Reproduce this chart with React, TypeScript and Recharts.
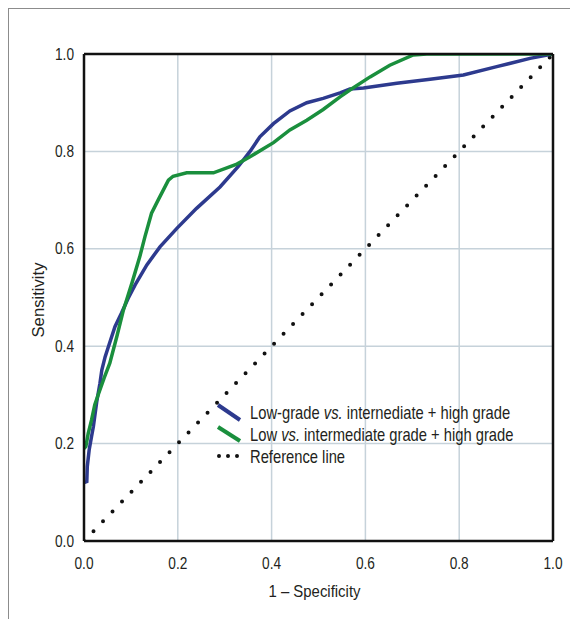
import {
  CartesianGrid,
  Label,
  Legend,
  Line,
  LineChart,
  XAxis,
  YAxis,
} from "recharts";

// Low-grade vs. intermediate + high grade (blue)
const lowGradeFpr = [
  0, 0.006, 0.007, 0.011, 0.016, 0.02, 0.027, 0.034, 0.038, 0.045, 0.052,
  0.066, 0.08, 0.094, 0.109, 0.134, 0.162, 0.198, 0.24, 0.29, 0.329, 0.354,
  0.375, 0.404, 0.439, 0.475, 0.51, 0.546, 0.567, 0.596, 0.667, 0.738, 0.809,
  0.88, 0.951, 1,
];
const lowGradeTpr = [
  0.12, 0.122, 0.153, 0.187, 0.214, 0.235, 0.285, 0.324, 0.351, 0.378, 0.399,
  0.44, 0.468, 0.498, 0.526, 0.567, 0.604, 0.642, 0.683, 0.727, 0.769, 0.8,
  0.83, 0.857, 0.883, 0.9, 0.909, 0.92, 0.928, 0.93, 0.94, 0.948, 0.957,
  0.974, 0.991, 1,
];

// Low vs. intermediate grade + high grade (green)
const lowFpr = [
  0, 0.004, 0.009, 0.016, 0.023, 0.032, 0.043, 0.055, 0.07, 0.084, 0.102,
  0.119, 0.13, 0.144, 0.158, 0.18, 0.19, 0.219, 0.276, 0.326, 0.354, 0.404,
  0.439, 0.475, 0.51, 0.546, 0.567, 0.61, 0.652, 0.702, 0.731, 1,
];
const lowTpr = [
  0.19, 0.194, 0.221, 0.248, 0.28, 0.305, 0.335, 0.365, 0.42, 0.474, 0.529,
  0.584, 0.625, 0.673, 0.7, 0.741, 0.749, 0.756, 0.756, 0.774, 0.789, 0.818,
  0.844, 0.864, 0.886, 0.912, 0.926, 0.953, 0.977, 0.998, 1, 1,
];

const refFpr = [0, 1];
const refTpr = [0, 1];

const majorTicks = [0, 0.2, 0.4, 0.6, 0.8, 1];
const minorTicks = [0, 0.1, 0.2, 0.3, 0.4, 0.5, 0.6, 0.7, 0.8, 0.9, 1];

const legendLabels = [
  ["Low-grade ", "vs.", " internediate + high grade"],
  ["Low ", "vs.", " intermediate grade + high grade"],
  ["Reference line", "", ""],
];

const BLUE = "#2d3a8e";
const GREEN = "#1a8f3d";
const INK = "#111";
const TEXT = "#231f20";
const FONT =
  '"Liberation Sans Narrow", "Liberation Sans", Arial, sans-serif';

const toPoints = (xs: number[], ys: number[]) =>
  xs.map((x, i) => ({ x, y: ys[i] }));

const blueData = toPoints(lowGradeFpr, lowGradeTpr);
const greenData = toPoints(lowFpr, lowTpr);
const refData = toPoints(refFpr, refTpr);

const fmt = (v: number) => v.toFixed(1);
const frame = { stroke: INK, strokeWidth: 2.5 };
const minorTick = { stroke: INK, strokeWidth: 1.5 };

// condensed look: squeeze each label to the width it has in the figure
function XTick({ x, y, payload }: any) {
  return (
    <text
      x={x}
      y={y}
      dy="0.71em"
      textAnchor="middle"
      fontFamily={FONT}
      fontSize={16}
      fill={TEXT}
      textLength={19}
      lengthAdjust="spacingAndGlyphs"
    >
      {fmt(payload.value)}
    </text>
  );
}

function YTick({ x, y, payload }: any) {
  return (
    <text
      x={x}
      y={y}
      dy="0.355em"
      textAnchor="end"
      fontFamily={FONT}
      fontSize={16}
      fill={TEXT}
      textLength={19}
      lengthAdjust="spacingAndGlyphs"
    >
      {fmt(payload.value)}
    </text>
  );
}

function RocLegend() {
  const rows = [24, 46, 68];
  return (
    <svg width={330} height={75} style={{ display: "block" }}>
      <line x1={8} y1={10} x2={30} y2={25} stroke={BLUE} strokeWidth={4} />
      <line x1={8} y1={32} x2={30} y2={46} stroke={GREEN} strokeWidth={4} />
      <line
        x1={9}
        y1={61}
        x2={28}
        y2={61}
        stroke={INK}
        strokeWidth={4}
        strokeLinecap="round"
        strokeDasharray="0 9"
      />
      {legendLabels.map((parts, i) => (
        <g key={i} transform={`translate(40 ${rows[i]}) scale(0.82 1)`}>
          <text x={0} y={0} fontFamily={FONT} fontSize={18} fill={TEXT}>
            {parts[0]}
            {parts[1] && <tspan fontStyle="italic">{parts[1]}</tspan>}
            {parts[2]}
          </text>
        </g>
      ))}
    </svg>
  );
}

export default function App() {
  return (
    <div
      style={{
        position: "relative",
        width: 569,
        height: 610,
        borderTop: "1px solid #8c8c8c",
        borderLeft: "1px solid #8c8c8c",
      }}
    >
      <LineChart
        width={569}
        height={610}
        margin={{ top: 45, right: 25, bottom: 48, left: 25 }}
      >
        <CartesianGrid stroke="#c6d2da" strokeWidth={1.5} />
        <Line
          data={refData}
          dataKey="y"
          type="linear"
          stroke={INK}
          strokeWidth={4}
          strokeLinecap="round"
          strokeDasharray="0 13.7"
          dot={false}
          activeDot={false}
          isAnimationActive={false}
        />
        <Line
          data={blueData}
          dataKey="y"
          type="linear"
          stroke={BLUE}
          strokeWidth={3.5}
          dot={false}
          activeDot={false}
          isAnimationActive={false}
        />
        <Line
          data={greenData}
          dataKey="y"
          type="linear"
          stroke={GREEN}
          strokeWidth={3.5}
          dot={false}
          activeDot={false}
          isAnimationActive={false}
        />
        <XAxis
          dataKey="x"
          type="number"
          domain={[0, 1]}
          allowDataOverflow
          ticks={majorTicks}
          tick={<XTick />}
          tickLine={false}
          tickMargin={11}
          axisLine={frame}
          height={30}
        >
          <Label
            content={({ viewBox }: any) => (
              <text
                x={viewBox.x + viewBox.width / 2 - 4}
                y={viewBox.y + 56}
                textAnchor="middle"
                fontFamily={FONT}
                fontSize={17}
                fill={TEXT}
                textLength={92}
                lengthAdjust="spacingAndGlyphs"
              >
                1 – Specificity
              </text>
            )}
          />
        </XAxis>
        <YAxis
          type="number"
          domain={[0, 1]}
          allowDataOverflow
          ticks={majorTicks}
          tick={<YTick />}
          tickLine={false}
          tickMargin={4}
          axisLine={frame}
          width={50}
        >
          <Label
            content={({ viewBox }: any) => {
              const x = viewBox.x + 9.5;
              const y = viewBox.y + viewBox.height / 2 + 2.5;
              return (
                <text
                  x={x}
                  y={y}
                  transform={`rotate(-90 ${x} ${y})`}
                  textAnchor="middle"
                  fontFamily={FONT}
                  fontSize={17}
                  fill={TEXT}
                  textLength={75}
                  lengthAdjust="spacingAndGlyphs"
                >
                  Sensitivity
                </text>
              );
            }}
          />
        </YAxis>
        <XAxis
          xAxisId="bm"
          orientation="bottom"
          mirror
          type="number"
          domain={[0, 1]}
          allowDataOverflow
          ticks={minorTicks}
          tick={false}
          tickSize={4}
          tickLine={minorTick}
          axisLine={false}
          height={10}
        />
        <XAxis
          xAxisId="tm"
          orientation="top"
          mirror
          type="number"
          domain={[0, 1]}
          allowDataOverflow
          ticks={minorTicks}
          tick={false}
          tickSize={4}
          tickLine={minorTick}
          axisLine={frame}
          height={10}
        />
        <YAxis
          yAxisId="lm"
          orientation="left"
          mirror
          type="number"
          domain={[0, 1]}
          allowDataOverflow
          ticks={minorTicks}
          tick={false}
          tickSize={4}
          tickLine={minorTick}
          axisLine={false}
          width={10}
        />
        <YAxis
          yAxisId="rm"
          orientation="right"
          mirror
          type="number"
          domain={[0, 1]}
          allowDataOverflow
          ticks={minorTicks}
          tick={false}
          tickSize={4}
          tickLine={minorTick}
          axisLine={frame}
          width={10}
        />
        <Legend
          layout="vertical"
          align="center"
          verticalAlign="middle"
          content={() => <RocLegend />}
          wrapperStyle={{ left: 201, top: 386, width: 330, height: 75 }}
        />
      </LineChart>
    </div>
  );
}
